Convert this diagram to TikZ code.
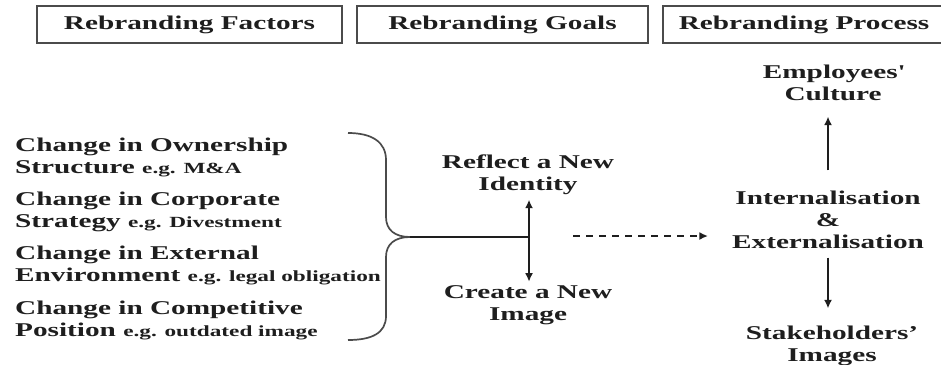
\documentclass[tikz,border=0pt]{standalone}
\usepackage{fontspec}
\setmainfont[FakeStretch=1.5]{Liberation Serif}
\usetikzlibrary{arrows.meta,calc}
\definecolor{ink}{HTML}{1E1E1E}
\newcommand{\egnote}[1]{{\fontsize{15.5pt}{22pt}\selectfont #1}}
\begin{document}
\begin{tikzpicture}[x=1pt,y=-1pt,
  every node/.style={text=ink, font=\bfseries\fontsize{19.5pt}{22pt}\selectfont, inner sep=0pt},
  header/.style={draw=ink!80, line width=1.5pt, minimum height=37pt},
  factor/.style={anchor=west, align=left},
  caption/.style={align=center},
  tipshape/.style={Latex[length=8.5pt,width=8pt]},
  link/.style={line width=2.2pt, draw=ink, -{Latex[length=8.5pt,width=8pt]}},
  bracepath/.style={line width=1.7pt, draw=ink!80}]
\useasboundingbox[fill=white] (0,0) rectangle (941,364);

% column headers
\node[header, minimum width=305pt] (hfactors) at (189.5,24.5) {Rebranding Factors};
\node[header, minimum width=291pt] (hgoals) at (502.5,24.5) {Rebranding Goals};
\node[header, minimum width=282pt] (hprocess) at (804,24.5) {Rebranding Process};

% rebranding factors
\node[factor] (f1) at (15,157) {Change in Ownership\\Structure \egnote{e.g. M\&A}};
\node[factor] (f2) at (15,211.5) {Change in Corporate\\Strategy \egnote{e.g. Divestment}};
\node[factor] (f3) at (15,265.5) {Change in External\\Environment \egnote{e.g. legal obligation}};
\node[factor] (f4) at (15,320.5) {Change in Competitive\\Position \egnote{e.g. outdated image}};

% brace gathering the factors
\coordinate (btop) at (348,133);
\coordinate (bbot) at (348,340);
\coordinate (tip) at (410,237);
\draw[bracepath] (btop) .. controls (372,133) and (386,142) .. (386,160)
  -- (386,217) .. controls (386,230) and (395,237) .. (tip)
  .. controls (395,237) and (386,244) .. (386,257)
  -- (386,316) .. controls (386,333) and (372,340) .. (bbot);

% rebranding goals
\node[caption] (reflect) at (528,174.5) {Reflect a New\\Identity};
\node[caption] (create) at (528,305.5) {Create a New\\Image};
\coordinate (jn) at (529,237);
\draw[line width=2pt, draw=ink] (tip) -- (jn);
\draw[link, shorten >=5pt] (jn) -- (jn |- reflect.south);
\draw[link, shorten >=4pt] (jn) -- (jn |- create.north);

% rebranding process
\node[caption] (employees) at (833,82.5) {Employees\textquotesingle\\Culture};
\node[caption] (intext) at (828,219.5) {Internalisation\\\&\\Externalisation};
\node[caption] (stake) at (832,345.5) {Stakeholders’\\Images};

\coordinate (dstart) at (573,236);
\draw[link, line width=1.8pt, dash pattern=on 7pt off 6pt, shorten >=24pt] (dstart) -- (intext.west |- dstart);
\draw[link, shorten <=20pt, shorten >=16pt] (intext.north) -- (intext.north |- employees.south);
\draw[link, shorten <=9pt, shorten >=17pt] (intext.south) -- (intext.south |- stake.north);
\end{tikzpicture}
\end{document}
